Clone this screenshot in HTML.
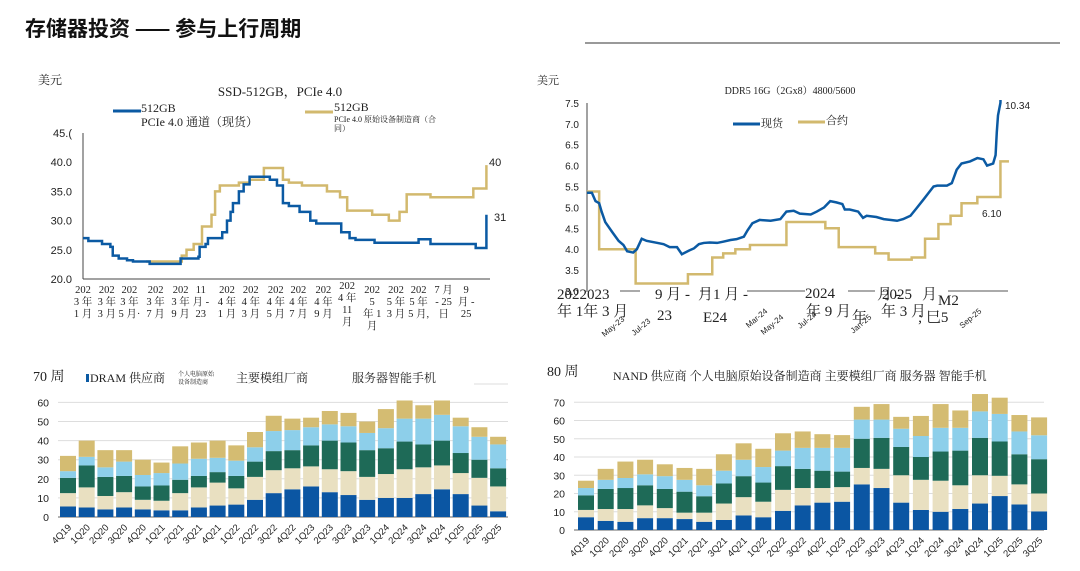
<!DOCTYPE html>
<html><head><meta charset="utf-8">
<style>
html,body{margin:0;padding:0;background:#fff;}
body{width:1080px;height:571px;overflow:hidden;position:relative;font-family:"Liberation Serif","Noto Serif CJK SC",serif;}
svg{position:absolute;left:0;top:0;}
.t{font-family:"Liberation Serif","Noto Serif CJK SC",serif;fill:#222;}
.s{font-family:"Liberation Sans","Noto Sans CJK SC",sans-serif;fill:#222;}
</style></head>
<body>
<svg id="c" width="1080" height="571" viewBox="0 0 1080 571">
<text x="25" y="36" style="font-family:'Noto Sans CJK SC',sans-serif;font-weight:bold;font-size:21px;fill:#111">存储器投资 —— 参与上行周期</text>
<line x1="585" y1="43" x2="1060" y2="43" stroke="#999" stroke-width="2"/>
<!-- top left -->
<g>
<text class="t" x="38" y="84" font-size="12">美元</text>
<text class="t" x="280" y="96" font-size="13" text-anchor="middle">SSD-512GB，PCIe 4.0</text>
<line x1="113" y1="111" x2="141" y2="111" stroke="#0b5aa3" stroke-width="3"/>
<text class="t" x="141" y="112" font-size="12">512GB</text>
<text class="t" x="141" y="126" font-size="12">PCIe 4.0 通道（现货）</text>
<line x1="305" y1="112" x2="333" y2="112" stroke="#d2b96e" stroke-width="3"/>
<text class="t" x="334" y="111" font-size="12">512GB</text>
<text class="t" x="334" y="122" font-size="8">PCIe 4.0 原始设备制造商（合</text>
<text class="t" x="334" y="131" font-size="8">同）</text>
<g id="ssd"></g>
</g>
<g>
<text class="t" x="537" y="84" font-size="11">美元</text>
<text class="t" x="790" y="94" font-size="10" text-anchor="middle">DDR5 16G（2Gx8）4800/5600</text>
<line x1="733" y1="124" x2="760" y2="124" stroke="#0b5aa3" stroke-width="3"/>
<text class="t" x="761" y="127" font-size="11">现货</text>
<line x1="798" y1="122" x2="825" y2="122" stroke="#d2b96e" stroke-width="3"/>
<text class="t" x="826" y="124" font-size="11">合约</text>
<g id="ddr"></g>
</g>
<g>
<text class="t" x="33" y="381" font-size="14">70 周</text>
<rect x="86" y="374" width="3" height="8" fill="#0b5aa3"/>
<text class="t" x="90" y="382" font-size="12">DRAM 供应商</text>
<text class="t" x="178" y="376" font-size="6">个人电脑原始</text>
<text class="t" x="178" y="384" font-size="6" fill="#aaa">设备制造商</text>
<text class="t" x="236" y="382" font-size="12">主要模组厂商</text>
<text class="t" x="352" y="382" font-size="12">服务器智能手机</text>
<line x1="474" y1="384" x2="508" y2="384" stroke="#ddd"/>
<g id="dram"></g>
</g>
<g>
<text class="t" x="547" y="376" font-size="14">80 周</text>
<text class="t" x="613" y="380" font-size="12">NAND 供应商 个人电脑原始设备制造商 主要模组厂商 服务器 智能手机</text>
<g id="nand"></g>
</g>
</svg>
<script>
const NS='http://www.w3.org/2000/svg';
function mk(p,tag,a){const e=document.createElementNS(NS,tag);for(const k in a)e.setAttribute(k,a[k]);p.appendChild(e);return e;}
// ---- SSD data ----
const ssdSpotM=[0,0.45,1.6,2.3,2.5,3,3.7,4.2,5.6,7.7,8.2,9.7,9.8,10.3,10.5,11.5,11.7,12.1,12.4,12.6,13.1,13.5,14,15.2,15.7,16.3,16.8,17.3,18.2,19.1,19.6,21.3,21.7,22.4,22.9,24.4,24.5,27.2,28.2,29,29.2,32.8,33,33.8,33.9];
const ssdSpotV=[27,26.5,26,25.5,24,23.5,23.2,23,22.6,22.6,23.5,23.8,25.5,26,27,27,28,30,31.5,33,35,36.2,37.5,37.5,37,36,33,32.5,31.5,30,29.5,29.5,28,27,26.7,26.7,26.2,26.2,26.8,26.8,26,26,25.3,25.3,31];
const ssdConM=[5.3,7.9,8.3,8.7,9.3,10,10.8,11.1,11.5,13.1,14,15.2,16.8,17.3,18.4,20.5,21.6,22.2,24.3,25.7,26.6,27.2,29.2,32.8,33.9];
const ssdConV=[23,23,24,25,26,29,31,35,36,36.5,37,39,37,36.5,36,35,34,31.7,31,30,31.5,34.5,34,35.5,39.5];
const ssdYTicks=["45.0","40.0","35.0","30.0","25.0","20.0"];
const ssdXLabels=[[0,["202","3 年","1 月"]],[2,["202","3 年","3 月"]],[3.9,["202","3 年","5 月·"]],[6.1,["202","3 年","7 月"]],[8.2,["202","3 年","9 月"]],[9.9,["11","月 -","23"]],[12.1,["202","4 年","1 月"]],[14.1,["202","4 年","3 月"]],[16.2,["202","4 年","5 月"]],[18.1,["202","4 年","7 月"]],[20.2,["202","4 年","9 月"]],[22.2,["202","4 年","11","月"]],[24.3,["202","5","年 1","月"]],[26.3,["202","5 年","3 月"]],[28.2,["202","5 年","5 月,"]],[30.3,["7 月","- 25","日"]],[32.2,["9","月 -","25"]]];
(function(){
 const g=document.getElementById('ssd');
 const x=m=>83+m*11.9, y=v=>279-(v-20)*5.84;
 ssdYTicks.forEach(t=>{const e=mk(g,'text',{x:72,y:y(+t)+4,'text-anchor':'end','font-size':11,class:'s'});e.textContent=t==="45.0"?"45.(":t;
 
 });
 let a=mk(g,'line',{x1:83,y1:133,x2:83,y2:279,stroke:'#444'});
 
 
 a=mk(g,'line',{x1:83,y1:279,x2:490,y2:279,stroke:'#444'});
 
 
 ssdXLabels.forEach(([m,ls])=>{ls.forEach((l,i)=>{const e=mk(g,'text',{x:x(m),y:(ls.length>3&&m>21&&m<23?289:293)+i*12,'text-anchor':'middle','font-size':10.5,class:'t'});e.textContent=l;
 
 });});
 function step(M,V){let d='M'+x(M[0])+','+y(V[0]);for(let i=1;i<M.length;i++){d+='H'+x(M[i])+'V'+y(V[i]);}return d;}
 let p=mk(g,'path',{d:step(ssdConM,ssdConV),fill:'none',stroke:'#d2b96e','stroke-width':2.5});
 
 
 p=mk(g,'path',{d:step(ssdSpotM,ssdSpotV),fill:'none',stroke:'#0b5aa3','stroke-width':2.5});
 
 
 let e=mk(g,'text',{x:489,y:166,'font-size':11,class:'s'});e.textContent=ssdConV[ssdConV.length-1].toFixed(0);
 
 
 e=mk(g,'text',{x:494,y:221,'font-size':11,class:'s'});e.textContent=ssdSpotV[ssdSpotV.length-1];
 
 
})();
// ---- DDR5 data ----
const ddrSpotM=[0,0.4,0.7,1,1.2,1.5,2.1,2.6,3,3.3,3.8,4.1,4.5,4.9,5.8,6.3,6.8,7.4,7.8,8.4,8.8,9.2,9.6,10.1,10.7,11.2,11.8,12.3,12.9,13.2,13.6,14.2,15.1,15.9,16.4,17,17.5,18.4,18.9,19.5,20,20.5,21,21.2,21.6,22.3,22.7,23,23.8,24.4,25.5,26,26.6,27.1,27.7,28.1,28.5,28.8,29.6,30,30.4,30.8,31.5,32.1,32.6,32.9,33.4,33.6,33.7,33.8,34,34.2];
const ddrSpotV=[5.35,5.35,5.15,5.1,4.9,4.65,4.4,4.2,4.1,3.95,3.92,4.0,4.25,4.2,4.15,4.12,4.05,4.05,3.88,3.97,4.02,4.12,4.15,4.16,4.15,4.18,4.22,4.24,4.3,4.45,4.62,4.7,4.68,4.72,4.9,4.92,4.85,4.83,4.9,5.0,5.15,5.12,5.08,4.95,4.95,4.9,4.75,4.8,4.77,4.72,4.68,4.72,4.8,4.98,5.2,5.35,5.5,5.52,5.52,5.58,5.9,6.05,6.1,6.18,6.15,6.0,6.05,6.25,6.8,7.2,7.5,10.34];
const ddrConM=[0,1,4,8.3,10.3,11.2,12.2,13.4,16.4,19.6,20.7,23.7,24.8,26.7,27.8,28.9,29.9,30.8,32.1,34,34.7];
const ddrConV=[5.38,4.0,3.18,3.4,3.8,3.9,4.0,4.1,4.65,4.5,4.05,3.9,3.75,3.8,4.25,4.6,4.8,5.1,5.25,6.1,6.1];
const ddrYTicks=["7.5","7.0","6.5","6.0","5.5","5.0","4.5","4.0","3.5","3.0"];
const ddrBig=[[557,299,"2022023"],[557,316,"年 1年 3 月"],[655,299,"9 月 -"],[657,320,"23"],[698,299,"月1 月 -"],[703,322,"E24"],[805,298,"2024"],[806,316,"年 9 月"],[877,299,"月 -"],[852,322,"年"],[882,299,"2025"],[881,316,"年 3 月"],[922,299,"月"],[938,305,"M2"],[918,322,"; 巳5"]];
const ddrSmall=[[625,320,"May-23"],[651,322,"Jul-23"],[768,312,"Mar-24"],[784,318,"May-24"],[817,315,"Jul-24"],[872,318,"Jan-25"],[982,312,"Sep-25"]];
(function(){
 const g=document.getElementById('ddr');
 const x=m=>587+m*12.16, y=v=>291-(v-3)*41.8;
 ddrYTicks.forEach(t=>{const e=mk(g,'text',{x:579,y:y(+t)+4,'text-anchor':'end','font-size':10,class:'s'});e.textContent=t;
 
 });
 let a=mk(g,'line',{x1:587,y1:103,x2:587,y2:292,stroke:'#444'});
 
 
 [[620,640],[700,710],[747,805],[848,875],[948,1008]].forEach(s=>{const l=mk(g,'line',{x1:s[0],y1:291,x2:s[1],y2:291,stroke:'#555'});
 
 });
 ddrBig.forEach(b=>{const e=mk(g,'text',{x:b[0],y:b[1],'font-size':15,class:'t'});e.textContent=b[2];
 
 });
 ddrSmall.forEach(b=>{const e=mk(g,'text',{x:b[0],y:b[1],'font-size':8,class:'s','text-anchor':'end',transform:`rotate(-40 ${b[0]} ${b[1]})`});e.textContent=b[2];
 
 });
 const cp=mk(g,'clipPath',{id:'ddrclip'});mk(cp,'rect',{x:585,y:100,width:440,height:195});
 let d='M'+x(ddrConM[0])+','+y(ddrConV[0]);for(let i=1;i<ddrConM.length;i++)d+='H'+x(ddrConM[i])+'V'+y(ddrConV[i]);
 let p=mk(g,'path',{d,fill:'none',stroke:'#d2b96e','stroke-width':2.5});
 
 
 d=ddrSpotM.map((m,i)=>(i?'L':'M')+x(m)+','+y(ddrSpotV[i])).join('');
 p=mk(g,'path',{d,fill:'none',stroke:'#0b5aa3','stroke-width':2.5,'clip-path':'url(#ddrclip)'});
 
 
 let e=mk(g,'text',{x:1005,y:109,'font-size':10,class:'s'});e.textContent=ddrSpotV[ddrSpotV.length-1].toFixed(2);
 
 
 e=mk(g,'text',{x:982,y:217,'font-size':10,class:'s'});e.textContent=ddrConV[ddrConV.length-1].toFixed(2);
 
 
})();
// ---- bar data (cumulative tops, converted to segments) ----
const quarters=["4Q19","1Q20","2Q20","3Q20","4Q20","1Q21","2Q21","3Q21","4Q21","1Q22","2Q22","3Q22","4Q22","1Q23","2Q23","3Q23","4Q23","1Q24","2Q24","3Q24","4Q24","1Q25","2Q25","3Q25"];
const dramSupplier=[5.5,5,4,5,4,3.5,3.5,5,6,6.5,9,12.5,14.5,16,13,11.5,9,10,10,12,14.5,12,6,3];
const dramPC=[7,10.5,7,8,5,5,9,10.5,12,8.5,12,12,11,10.5,12,12.5,12,12.5,15,14,12.5,11,14.5,13];
const dramModule=[8,11.5,10,8.5,7,8,7,6,5.5,6.5,8,10,9.5,11,15,15,14,13.5,14.5,12,13,10.5,9.5,9.5];
const dramServer=[3.5,4.5,5,7.5,6,6.5,8.5,9,7.5,8,7.5,10.5,10.5,9.5,8.5,8.5,9,10.5,12,13.5,13.5,14,12,12.5];
const dramPhone=[8,8.5,9,6,8,5.5,9,8.5,9,8,8,8,6,5,7,7,6,10,9.5,7,7.5,4.5,5,4];
const nandSupplier=[7,5,4.5,6.5,6.5,6,4.5,5.5,8,7,10.5,13.5,15,15.5,25,23,15,11,10,11.5,14.5,18.6,14,10.2];
const nandPC=[4,6.5,7,7,5.5,3.5,5,9,10,8.5,11.5,9.5,8,8,9,10.5,15,16.5,17,13,15.5,11.1,11,9.8];
const nandModule=[8,11,11.5,11,10.5,11.5,9,11,11.5,10.5,13,10.5,9.5,8.5,16,17,15.5,12.5,16,19,20.5,18.8,16.5,18.8];
const nandServer=[4,5,5.5,6,7,6.5,6,7,9,8.5,8.5,11.5,12.5,13,10.5,10,10,11.5,13,12.5,14.5,15.1,12.5,13.1];
const nandPhone=[4,6,9,8,6.5,6.5,9,9,9,10,9.5,9,7.5,7,7,8.5,6.5,11,13,9.5,9.5,8.9,9,9.8];
const dramTicks=[0,10,20,30,40,50,60];
const nandTicks=[0,10,20,30,40,50,60,70];
const segColors=['#0b56a3','#e9e0c1','#1e6a57','#8dcfea','#d4bc72'];
const segNames=['supplier','pc-oem','module','server','phone'];
function bars(id,prefix,series,ticks,x0,dx,yb,k,gx1,gx2){
 const g=document.getElementById(id);
 ticks.forEach(t=>{const y=yb-t*k;
  const l=mk(g,'line',{x1:gx1,y1:y,x2:gx2,y2:y,stroke:t?'#ddd':'#999','stroke-width':t?1:1.5});
  
  
  const e=mk(g,'text',{x:gx1-9,y:y+4,'text-anchor':'end','font-size':10.5,class:'s'});e.textContent=t;
  
  });
 quarters.forEach((q,i)=>{const cx=x0+i*dx;let acc=0;
  series.forEach((s,j)=>{const v=s[i];const r=mk(g,'rect',{x:cx-8,y:yb-(acc+v)*k,width:16,height:v*k,fill:segColors[j]});
   
   
   acc+=v;});
  const e=mk(g,'text',{x:cx+4,y:yb+11,'text-anchor':'end','font-size':9.5,class:'s',transform:`rotate(-45 ${cx+4} ${yb+11})`});e.textContent=q;
  
  });
}
bars('dram','dram',[dramSupplier,dramPC,dramModule,dramServer,dramPhone],dramTicks,68,18.7,517,1.91,58,508);
bars('nand','nand',[nandSupplier,nandPC,nandModule,nandServer,nandPhone],nandTicks,586,19.7,530,1.825,574,1044);
</script>
</body></html>
